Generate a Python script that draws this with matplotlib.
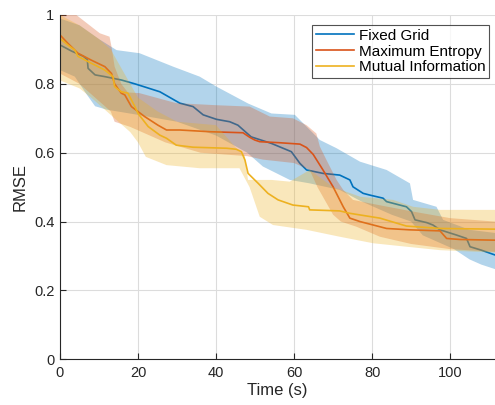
import numpy as np
import matplotlib
matplotlib.use("Agg")
import matplotlib.pyplot as plt

plt.rcParams['font.family'] = ['Liberation Sans', 'DejaVu Sans']

series_names = ["Fixed Grid", "Maximum Entropy", "Mutual Information"]

# ---- Fixed Grid ----
fg_x = [0, 3, 6, 7, 7.2, 9, 11.5, 15.8, 19.2, 22, 25.6, 30.7, 34.1, 36.7, 40.1, 43.5, 45.6, 49,
        54.2, 59.3, 61.5, 63.2, 67.4, 71.7, 74.3, 75.1, 77.7, 79.4, 82.8, 83.7, 88.8, 90.1, 91,
        94, 95.6, 97.4, 101.6, 104.2, 105.1, 108, 111.5]
fg_mean = [0.913, 0.895, 0.88, 0.87, 0.845, 0.826, 0.821, 0.811, 0.80, 0.79, 0.777, 0.744, 0.734,
           0.71, 0.697, 0.69, 0.68, 0.646, 0.627, 0.603, 0.569, 0.55, 0.54, 0.535, 0.521, 0.501,
           0.482, 0.477, 0.468, 0.458, 0.443, 0.429, 0.405, 0.397, 0.39, 0.376, 0.361, 0.351,
           0.327, 0.317, 0.303]
fg_up_x = [0, 5, 10, 14.5, 20.4, 29, 35.8, 40.1, 48.2, 54.2, 60.2, 66.6, 70.9, 76.9, 83.7, 89.7,
           90.5, 96.5, 98.2, 105, 111.5]
fg_up = [0.99, 0.97, 0.93, 0.898, 0.889, 0.85, 0.821, 0.792, 0.743, 0.714, 0.71, 0.637, 0.613,
         0.574, 0.55, 0.511, 0.463, 0.443, 0.405, 0.376, 0.367]
fg_lo_x = [0, 3.8, 6.8, 9, 12, 20, 30, 40, 48, 52, 58.9, 64, 71.7, 77, 85, 90, 93, 97, 101, 105,
           108, 111.5]
fg_lo = [0.84, 0.821, 0.77, 0.735, 0.725, 0.71, 0.69, 0.65, 0.60, 0.56, 0.521, 0.511, 0.492,
         0.46, 0.42, 0.40, 0.36, 0.34, 0.32, 0.29, 0.275, 0.262]

# ---- Maximum Entropy ----
me_x = [0, 2, 4.6, 8, 11.5, 13.2, 14, 15.7, 16.6, 18.3, 21.7, 25.1, 27.3, 30.7, 38.4, 46.9, 48.6,
        49.9, 51.2, 56.3, 61.5, 63.2, 64.9, 67.4, 70, 72.6, 74.3, 76.9, 80.3, 83.7, 89.7, 97.4,
        99.1, 102.5, 111.5]
me_mean = [0.942, 0.918, 0.889, 0.869, 0.85, 0.83, 0.80, 0.773, 0.768, 0.734, 0.705, 0.68, 0.666,
           0.666, 0.661, 0.658, 0.645, 0.637, 0.632, 0.629, 0.625, 0.615, 0.595, 0.55, 0.501,
           0.443, 0.41, 0.40, 0.39, 0.38, 0.376, 0.373, 0.351, 0.348, 0.346]
me_up_x = [0, 4.2, 10.2, 12.7, 13.2, 14, 15.7, 17.4, 20.4, 29.8, 40, 48.6, 53.8, 59.7, 63.2, 65.7,
           66.6, 68.3, 70.9, 72.6, 75.1, 79.4, 90, 100, 111.5]
me_up = [1.02, 1.0, 0.947, 0.937, 0.908, 0.85, 0.80, 0.775, 0.773, 0.744, 0.738, 0.734, 0.705,
         0.70, 0.68, 0.656, 0.618, 0.579, 0.521, 0.492, 0.463, 0.453, 0.43, 0.41, 0.40]
me_lo_x = [0, 5, 10, 13, 14, 18, 21, 27, 36, 48, 52, 60, 64, 66, 68, 70, 72, 76, 82, 90, 100,
           111.5]
me_lo = [0.83, 0.80, 0.75, 0.72, 0.69, 0.675, 0.66, 0.63, 0.60, 0.59, 0.58, 0.57, 0.55, 0.50,
         0.46, 0.42, 0.40, 0.385, 0.356, 0.335, 0.32, 0.312]

# ---- Mutual Information ----
mi_x = [0, 2, 3.8, 4.6, 8, 11.5, 13.6, 14, 15.7, 17.4, 19.2, 20, 22.6, 25.6, 27.3, 29.8, 34.1,
        42.7, 45.2, 46.5, 47.4, 48.2, 50.8, 53.3, 55.9, 59.7, 63.7, 64, 71.7, 74.3, 82, 88.8,
        97.4, 111.5]
mi_mean = [0.932, 0.913, 0.898, 0.88, 0.86, 0.84, 0.821, 0.792, 0.777, 0.773, 0.734, 0.714, 0.676,
           0.651, 0.642, 0.622, 0.616, 0.613, 0.61, 0.603, 0.579, 0.54, 0.511, 0.482, 0.463,
           0.448, 0.443, 0.434, 0.431, 0.424, 0.41, 0.387, 0.38, 0.378]
mi_up_x = [0, 5, 10, 13, 16, 20, 25, 30, 40, 45.6, 47.3, 48.2, 54.2, 58.9, 64, 70, 77, 85.4, 90.5,
           97.4, 111.5]
mi_up = [1.0, 0.97, 0.93, 0.90, 0.84, 0.76, 0.72, 0.69, 0.68, 0.608, 0.593, 0.521, 0.521, 0.516,
         0.55, 0.50, 0.472, 0.463, 0.443, 0.434, 0.434]
mi_lo_x = [0, 5, 8, 12, 15, 18, 20, 22, 27.3, 35.8, 46, 48.6, 51.2, 54.6, 63.2, 71.7, 80.3, 88.8,
           97.4, 111.5]
mi_lo = [0.81, 0.787, 0.76, 0.72, 0.69, 0.66, 0.63, 0.588, 0.564, 0.555, 0.555, 0.50, 0.414,
         0.39, 0.376, 0.356, 0.337, 0.327, 0.317, 0.31]

colors = ["#0072BD", "#D95319", "#EDB120"]

W, H = 495, 405
fig = plt.figure(figsize=(W / 100, H / 100), dpi=100)
ax = fig.add_axes([60 / W, (H - 359.3) / H, (W - 60) / W, (359.3 - 15) / H])

data = [
    (fg_x, fg_mean, fg_up_x, fg_up, fg_lo_x, fg_lo),
    (me_x, me_mean, me_up_x, me_up, me_lo_x, me_lo),
    (mi_x, mi_mean, mi_up_x, mi_up, mi_lo_x, mi_lo),
]
handles = []
for (x, m, ux, u, lx, lo), c, name in zip(data, colors, series_names):
    px = list(ux) + list(lx)[::-1]
    py = list(u) + list(lo)[::-1]
    ax.fill(px, py, color=c, alpha=0.3, lw=0, zorder=2)
    h, = ax.plot(x, m, color=c, lw=1.2, zorder=2, label=name)
    handles.append(h)

ax.set_xlim(0, 111.5)
ax.set_ylim(0, 1)
ax.set_xticks([0, 20, 40, 60, 80, 100])
ax.set_yticks([0, 0.2, 0.4, 0.6, 0.8, 1])
ax.set_yticklabels(["0", "0.2", "0.4", "0.6", "0.8", "1"])
ax.grid(True, color="#dcdcdc", lw=0.8, zorder=0)
ax.set_axisbelow(True)
for s in ["top", "right"]:
    ax.spines[s].set_visible(False)
for s in ["left", "bottom"]:
    ax.spines[s].set_color("#262626")
    ax.spines[s].set_linewidth(0.8)
    ax.spines[s].set_zorder(5)
ax.tick_params(direction="in", length=4, width=0.8, color="#262626", labelsize=10.5,
               labelcolor="#262626")
ax.tick_params(axis="x", pad=5)
ax.tick_params(axis="y", pad=4)
ax.set_xlabel("Time (s)", fontsize=12, color="#262626", labelpad=2)
ax.set_ylabel("RMSE", fontsize=12, color="#262626", labelpad=5)

leg = ax.legend(handles=handles, loc="upper right", bbox_to_anchor=(0.987, 0.971),
                fontsize=11, frameon=True, fancybox=False, edgecolor="#262626",
                handlelength=2.5, handletextpad=0.3, borderpad=0.25, labelspacing=0.12,
                borderaxespad=0)
leg.get_frame().set_linewidth(0.8)

fig.savefig("out.png", dpi=100)
